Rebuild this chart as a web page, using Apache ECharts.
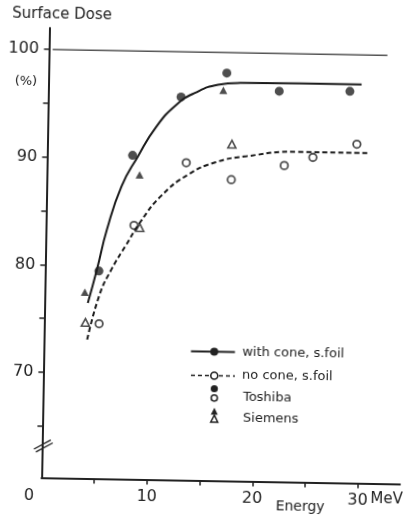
<!DOCTYPE html>
<html>
<head>
<meta charset="utf-8">
<script src="https://cdn.jsdelivr.net/npm/echarts@6/dist/echarts.min.js"></script>
<style>
html,body{margin:0;padding:0;background:#fff;overflow:hidden;}
#chart{width:407px;height:516px;background:#fff;transform:rotate(1deg);transform-origin:203.5px 258px;}
</style>
</head>
<body>
<div id="chart"></div>
<script>
// Fitted curves
const coneCurveEnergy   = [4.1, 4.9, 5.8, 7.1, 8.6, 10.3, 12.2, 13.9, 16.1, 18.2, 23.8, 29.7];
const coneCurveDose     = [76.5, 79.6, 83.4, 87.4, 90.2, 93.0, 95.1, 96.2, 97.0, 97.2, 97.25, 97.25];
const noConeCurveEnergy = [4.1, 5.2, 6.3, 7.6, 9.0, 10.9, 13.4, 16.0, 18.9, 23.7, 30.4];
const noConeCurveDose   = [73.1, 77.3, 79.7, 81.9, 84.2, 86.6, 88.6, 89.8, 90.4, 90.9, 90.9];
// Measured points
const toshibaConeEnergy   = [5.1, 8.1, 12.6, 16.9, 21.9, 28.6];
const toshibaConeDose     = [79.5, 90.3, 95.8, 98.1, 96.5, 96.6];
const siemensConeEnergy   = [3.8, 8.8, 16.6];
const siemensConeDose     = [77.5, 88.5, 96.5];
const toshibaNoConeEnergy = [5.2, 8.35, 13.2, 17.5, 22.5, 25.2, 29.35];
const toshibaNoConeDose   = [74.6, 83.8, 89.7, 88.2, 89.6, 90.4, 91.7];
const siemensNoConeEnergy = [3.9, 8.9, 17.5];
const siemensNoConeDose   = [74.7, 83.6, 91.5];
// 100 % reference line
const referenceEnergy = [0.35, 32.1];
const referenceDose   = [100, 100];
// Axis ticks / labels
const yTickValues  = [65, 70, 75, 80, 85, 90, 95, 100];
const yLabelValues = [70, 80, 90, 100];
const xTickValues  = [5, 10, 15, 20, 25, 30];
const xLabelValues = [10, 20, 30];

const zip = (xs, ys) => xs.map((x, i) => [x, ys[i]]);
const FONT = 'DejaVu Sans';
const INK = '#222';

function tri(cx, cy, s, filled) {
  return {
    type: 'polygon',
    shape: { points: [[cx, cy - s * 0.55], [cx + s / 2, cy + s * 0.45], [cx - s / 2, cy + s * 0.45]] },
    style: filled ? { fill: INK } : { fill: '#fff', stroke: INK, lineWidth: 1.5 }
  };
}
function txt(x, y, text, size, align) {
  return { type: 'text', x: x, y: y,
    style: { text: text, font: size + 'px "' + FONT + '"', fill: INK, align: align || 'left', verticalAlign: 'middle' } };
}

const chart = echarts.init(document.getElementById('chart'), null, { renderer: 'canvas' });
chart.setOption({
  animation: false,
  backgroundColor: '#fff',
  title: {
    text: 'Surface Dose', left: 8, top: 10, padding: 0,
    textStyle: { fontFamily: FONT, fontSize: 15, fontWeight: 'normal', color: INK }
  },
  grid: { left: 45.4, right: 3.1, top: 30.7, bottom: 35.5, containLabel: false },
  xAxis: {
    type: 'value', min: 0, max: 34,
    axisLine: { lineStyle: { color: INK, width: 2 } },
    axisTick: { customValues: xTickValues, length: 5, lineStyle: { color: INK, width: 1.5 } },
    axisLabel: { customValues: xLabelValues, margin: 9, fontFamily: FONT, fontSize: 16, color: INK },
    splitLine: { show: false }
  },
  yAxis: {
    type: 'value', min: 60.2, max: 102,
    axisLine: { show: true, lineStyle: { color: INK, width: 2 } },
    axisTick: { show: true, customValues: yTickValues, length: 5, lineStyle: { color: INK, width: 1.5 } },
    axisLabel: { customValues: yLabelValues, margin: 10, fontFamily: FONT, fontSize: 16, color: INK },
    splitLine: { show: false }
  },
  graphic: [
    txt(22.9, 84.6, '(%)', 13, 'center'),
    txt(33.2, 499, '0', 16, 'center'),
    txt(374.5, 496.4, 'MeV', 15, 'left'),
    txt(304.4, 505.5, 'Energy', 14, 'center'),
    // axis break marks
    { type: 'line', shape: { x1: 37.3, y1: 452, x2: 54, y2: 442.7 }, style: { stroke: INK, lineWidth: 1.4 } },
    { type: 'line', shape: { x1: 39.3, y1: 454.8, x2: 56, y2: 445.5 }, style: { stroke: INK, lineWidth: 1.4 } },
    // legend
    { type: 'line', shape: { x1: 192.6, y1: 351.5, x2: 236.6, y2: 351.5 }, style: { stroke: INK, lineWidth: 1.8 } },
    { type: 'circle', shape: { cx: 215.9, cy: 351.5, r: 4 }, style: { fill: INK } },
    txt(243.9, 352, 'with cone, s.foil', 13),
    { type: 'line', shape: { x1: 193, y1: 375.5, x2: 237, y2: 375.5 }, style: { stroke: INK, lineWidth: 1.6, lineDash: [4, 3] } },
    { type: 'circle', shape: { cx: 216.3, cy: 375.5, r: 3.5 }, style: { fill: '#fff', stroke: INK, lineWidth: 1.6 } },
    txt(244.1, 374.7, 'no cone, s.foil', 13),
    { type: 'circle', shape: { cx: 216.6, cy: 388.5, r: 3.6 }, style: { fill: INK } },
    { type: 'circle', shape: { cx: 216.7, cy: 397.8, r: 3.1 }, style: { fill: '#fff', stroke: INK, lineWidth: 1.5 } },
    txt(245.4, 396.7, 'Toshiba', 13),
    tri(217, 411.3, 7, true),
    tri(217.1, 418.8, 7, false),
    txt(245.8, 417.6, 'Siemens', 13)
  ],
  series: [
    { name: '100 %', type: 'line', data: zip(referenceEnergy, referenceDose), symbol: 'none',
      lineStyle: { color: '#555', width: 1.5 }, silent: true },
    { name: 'with cone, s.foil', type: 'line', data: zip(coneCurveEnergy, coneCurveDose),
      smooth: 0.5, symbol: 'none', lineStyle: { color: '#1a1a1a', width: 2 } },
    { name: 'no cone, s.foil', type: 'line', data: zip(noConeCurveEnergy, noConeCurveDose),
      smooth: 0.5, symbol: 'none', lineStyle: { color: '#1a1a1a', width: 2, type: [5, 3] } },
    { name: 'Toshiba, with cone', type: 'scatter', data: zip(toshibaConeEnergy, toshibaConeDose),
      symbol: 'circle', symbolSize: 9, itemStyle: { color: INK } },
    { name: 'Siemens, with cone', type: 'scatter', data: zip(siemensConeEnergy, siemensConeDose),
      symbol: 'triangle', symbolSize: [8, 7.5], itemStyle: { color: INK } },
    { name: 'Toshiba, no cone', type: 'scatter', data: zip(toshibaNoConeEnergy, toshibaNoConeDose),
      symbol: 'circle', symbolSize: 7.5, itemStyle: { color: '#fff', borderColor: INK, borderWidth: 1.8 } },
    { name: 'Siemens, no cone', type: 'scatter', data: zip(siemensNoConeEnergy, siemensNoConeDose),
      symbol: 'triangle', symbolSize: [8, 7.5], itemStyle: { color: '#fff', borderColor: INK, borderWidth: 1.6 } }
  ]
});
</script>
</body>
</html>
